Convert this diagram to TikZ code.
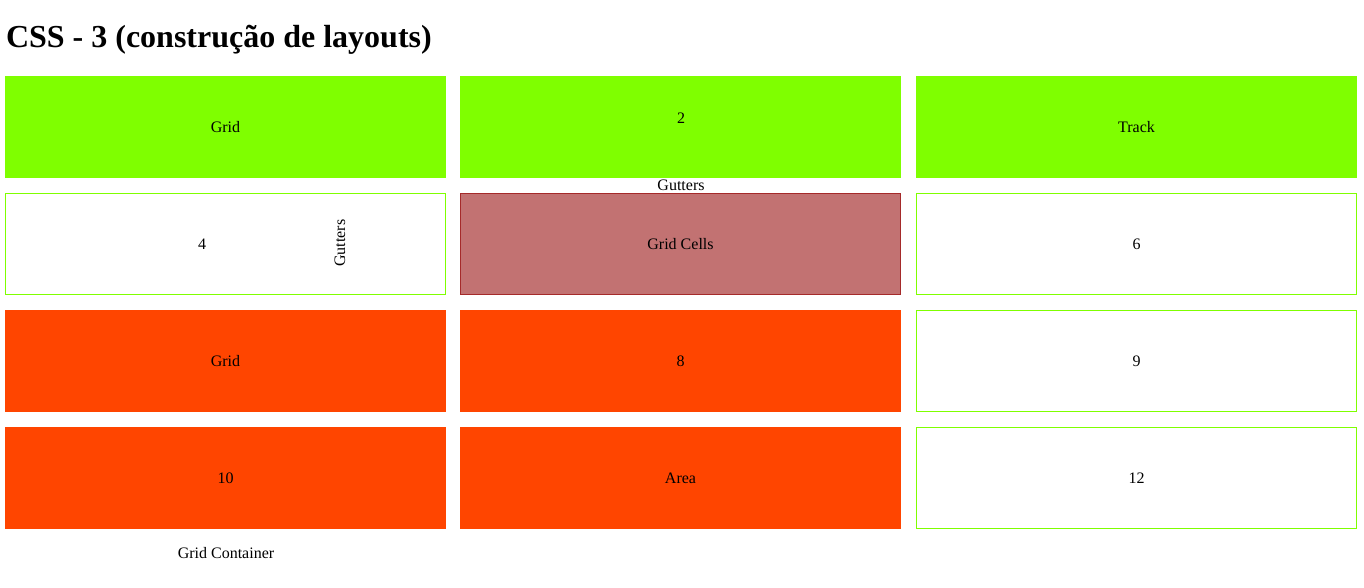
\documentclass[tikz,border=0pt]{standalone}
\usepackage{fontspec}
\setmainfont{Liberation Serif}
\definecolor{lgreen}{HTML}{7FFF00}
\definecolor{ored}{HTML}{FF4500}
\definecolor{cellred}{HTML}{C27272}
\definecolor{cellbrd}{HTML}{A52A2A}
\begin{document}
\begin{tikzpicture}[x=1pt,y=-1pt,
  every node/.style={font=\fontsize{16}{19}\selectfont, inner sep=0pt, outer sep=0pt},
  cellbox/.style={rectangle, minimum width=441pt, minimum height=102pt, anchor=north west},
  greenfill/.style={cellbox, fill=lgreen},
  redfill/.style={cellbox, fill=ored},
  outlined/.style={cellbox, draw=lgreen, line width=1pt, minimum width=440pt, minimum height=101pt},
  special/.style={cellbox, fill=cellred, draw=cellbrd, line width=1pt, minimum width=440pt, minimum height=101pt},
  lbl/.style={anchor=center}
]
\useasboundingbox (0,0) rectangle (1364,587);
\node[anchor=base west, font=\fontsize{32}{37}\selectfont\bfseries] (title) at (6,47) {CSS - 3 (construção de layouts)};
% row 1
\node[greenfill] (c1) at (5,76) {Grid};
\node[greenfill] (c2) at (460,76) {};
\node[greenfill] (c3) at (916,76) {Track};
% row 2
\node[outlined] (c4) at (5.5,193.5) {};
\node[special] (c5) at (460.5,193.5) {Grid Cells};
\node[outlined] (c6) at (916.5,193.5) {6};
% row 3
\node[redfill] (c7) at (5,310) {Grid};
\node[redfill] (c8) at (460,310) {8};
\node[outlined] (c9) at (916.5,310.5) {9};
% row 4
\node[redfill] (c10) at (5,427) {10};
\node[redfill] (c11) at (460,427) {Area};
\node[outlined] (c12) at (916.5,427.5) {12};
% extra labels
\node[lbl] (l2) at (681,118) {2};
\node[lbl] (gh) at (681,185) {Gutters};
\node[lbl] (l4) at (202,244) {4};
\node[lbl, rotate=90] (gv) at (340,243) {Gutters};
\node[lbl] (gc) at (226,553) {Grid Container};
\end{tikzpicture}
\end{document}
